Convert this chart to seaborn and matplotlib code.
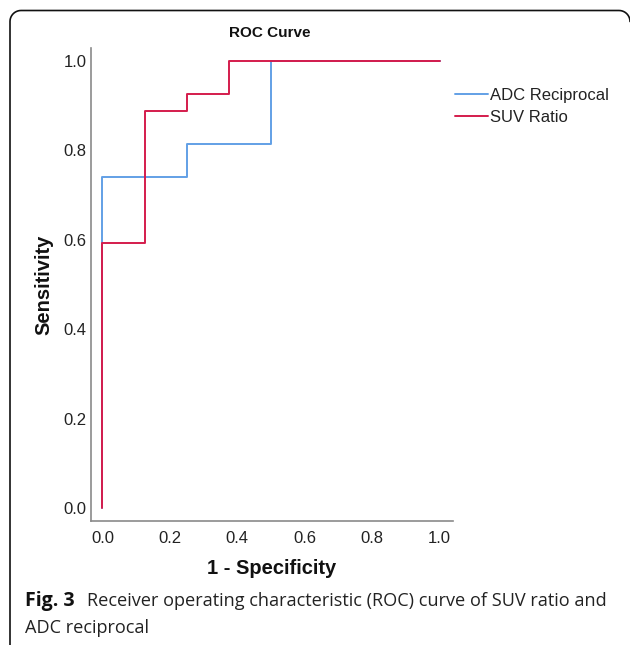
import matplotlib
matplotlib.use("Agg")
import matplotlib.pyplot as plt
import seaborn as sns
import pandas as pd
import numpy as np
from matplotlib.lines import Line2D

# ---- data ----
series_names = ["ADC Reciprocal", "SUV Ratio"]
adc_fpr = [0.0, 0.0, 0.25, 0.25, 0.5, 0.5, 1.0]
adc_tpr = [0.0, 0.741, 0.741, 0.815, 0.815, 1.0, 1.0]
suv_fpr = [0.0, 0.0, 0.125, 0.125, 0.25, 0.25, 0.375, 0.375, 1.0]
suv_tpr = [0.0, 0.593, 0.593, 0.889, 0.889, 0.926, 0.926, 1.0, 1.0]
tick_values = [0.0, 0.2, 0.4, 0.6, 0.8, 1.0]
tick_labels = ["0.0", "0.2", "0.4", "0.6", "0.8", "1.0"]

df = pd.concat([
    pd.DataFrame({"fpr": adc_fpr, "tpr": adc_tpr, "series": series_names[0]}),
    pd.DataFrame({"fpr": suv_fpr, "tpr": suv_tpr, "series": series_names[1]}),
], ignore_index=True)

sns.set_theme(style="white")
plt.rcParams["font.family"] = ["Liberation Sans", "DejaVu Sans"]

W, H = 630, 645
fig = plt.figure(figsize=(W / 100, H / 100), dpi=100)
fig.patch.set_facecolor("white")

# axes placement in pixels
L, R, T, B = 91, 453, 48, 521
ax = fig.add_axes([L / W, 1 - B / H, (R - L) / W, (B - T) / H])

palette = {"ADC Reciprocal": "#62a0e6", "SUV Ratio": "#d41c4c"}
sns.lineplot(data=df, x="fpr", y="tpr", hue="series", hue_order=series_names,
             estimator=None, sort=False, palette=palette, linewidth=1.4,
             ax=ax, legend=False)

ax.set_xlim(-0.034, 1.04)
ax.set_ylim(-0.029, 1.029)
ax.set_xticks(tick_values)
ax.set_xticklabels(tick_labels)
ax.set_yticks(tick_values)
ax.set_yticklabels(tick_labels)
ax.tick_params(axis="both", length=0, labelsize=12, colors="#222222")
ax.tick_params(axis="x", pad=7)
ax.tick_params(axis="y", pad=3)
for s in ["top", "right"]:
    ax.spines[s].set_visible(False)
for s in ["left", "bottom"]:
    ax.spines[s].set_color("#8a8a8a")
    ax.spines[s].set_linewidth(1.2)
ax.grid(False)

ax.set_xlabel("1 - Specificity", fontsize=14.5, fontweight="bold", color="#111111", va="center")
ax.set_ylabel("Sensitivity", fontsize=14.5, fontweight="bold", color="#111111", va="center")
ax.xaxis.set_label_coords(0.5, (B - 568) / (B - T))
ax.yaxis.set_label_coords((44 - L) / (R - L), 0.5)

fig.text(270 / W, 1 - 33 / H, "ROC Curve", ha="center", va="center",
         fontsize=11, fontweight="bold", color="#111111")

# legend
handles = [Line2D([], [], color=palette[n], linewidth=1.4) for n in series_names]
leg = fig.legend(handles, series_names, loc="upper left",
                 bbox_to_anchor=(455 / W, 1 - 88 / H), frameon=False,
                 fontsize=12, handlelength=2.0, handletextpad=0.12,
                 labelspacing=0.40, borderpad=0, borderaxespad=0)
for t in leg.get_texts():
    t.set_color("#222222")

# caption
cap_font = ["Open Sans", "DejaVu Sans"]
fig.text(25 / W, 1 - 606 / H, "Fig. 3", ha="left", va="baseline",
         fontsize=14, fontweight="bold", family=cap_font, color="#111111")
fig.text(87 / W, 1 - 606 / H, "Receiver operating characteristic (ROC) curve of SUV ratio and",
         ha="left", va="baseline", fontsize=13.1, family=cap_font, color="#222222")
fig.text(25 / W, 1 - 633 / H, "ADC reciprocal", ha="left", va="baseline",
         fontsize=13.1, family=cap_font, color="#222222")

# outer rounded frame (cropped at the right and bottom, as in the reference)
r = 11.0
x0, y0, x1 = 10.0, 10.5, 630.0
a1 = np.linspace(np.pi, 1.5 * np.pi, 12)
a2 = np.linspace(1.5 * np.pi, 2.0 * np.pi, 12)
px = np.concatenate([[x0], x0 + r + r * np.cos(a1), x1 - r + r * np.cos(a2)])
py = np.concatenate([[H + 5], y0 + r - r * np.sin(a1) * -1 * -1 + 0 * a1, y0 + r + r * np.sin(a2)])
# convert: pixel y grows downwards; corners: top-left arc and top-right arc
py = np.concatenate([[H + 5], y0 + r + r * np.sin(a1), y0 + r + r * np.sin(a2)])
frame = Line2D(px / W, 1 - py / H, transform=fig.transFigure, color="#111111",
               linewidth=1.2, clip_on=False)
fig.add_artist(frame)

fig.savefig("out.png", dpi=100)
